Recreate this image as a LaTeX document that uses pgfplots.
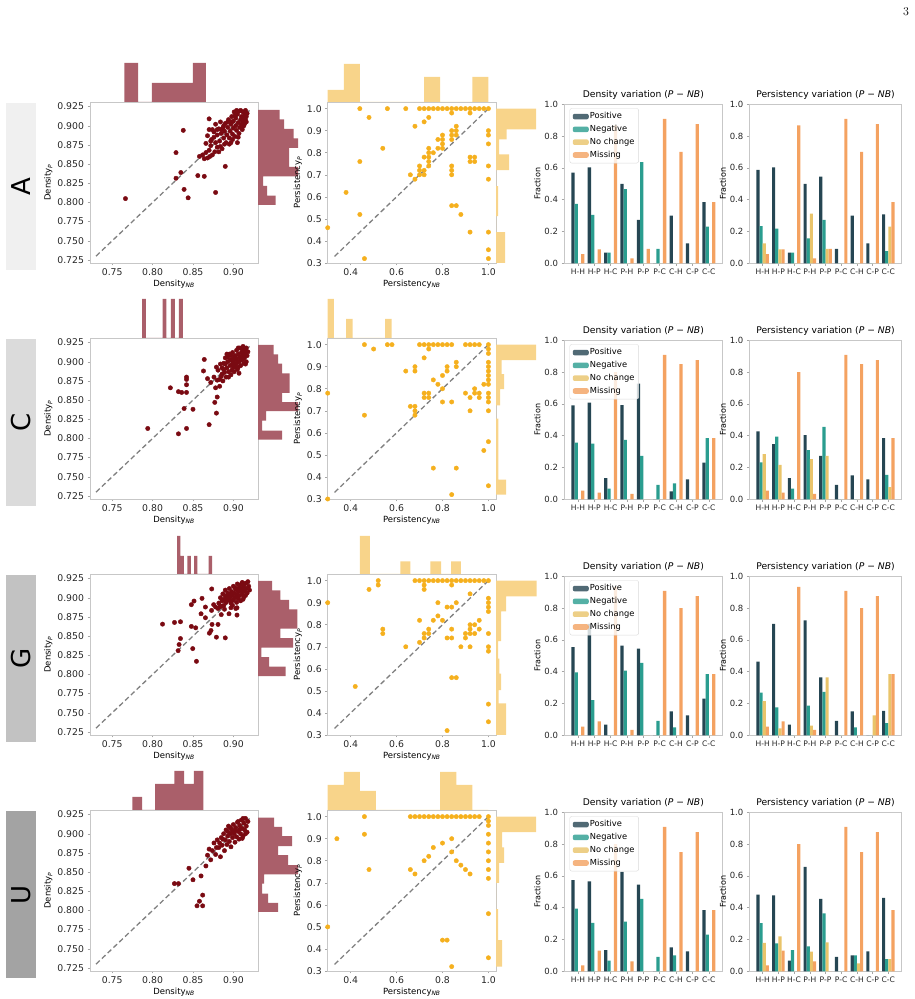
\documentclass[border=0pt]{standalone}
\usepackage{pgfplots}
\pgfplotsset{compat=1.18}
\usepackage{pgfplotstable}
\usepackage{fontspec}
\newfontfamily\dv{DejaVu Sans}
\newcommand{\fs}[1]{\fontsize{#1}{#1}\selectfont}
\definecolor{posc}{HTML}{264653}
\definecolor{negc}{HTML}{2A9D8F}
\definecolor{ncc}{HTML}{E9C46A}
\definecolor{misc}{HTML}{F4A261}
\definecolor{dens}{HTML}{7A0A12}
\definecolor{densh}{HTML}{AA5F6A}
\definecolor{pers}{HTML}{F5B01E}
\definecolor{persh}{HTML}{F8D48A}

\pgfplotsset{
 base/.style={anchor=south west, scale only axis, font=\dv\fs{8},
   axis line style={black!22, line width=0.6pt}, tick style={black!35, line width=0.5pt},
   major tick length=2.5pt, tick align=outside, xtick pos=bottom, ytick pos=left,
   scaled ticks=false, /pgf/number format/assume math mode=true,
   tick label style={text=black!85}},
 sdens/.style={base, width=168pt, height=161pt, xmin=0.7225, xmax=0.9305, ymin=0.721, ymax=0.931,
   xtick={0.75,0.8,0.85,0.9}, ytick={0.725,0.75,0.775,0.8,0.825,0.85,0.875,0.9,0.925},
   xticklabel style={font=\dv\fs{9.3},/pgf/number format/fixed,/pgf/number format/fixed zerofill,/pgf/number format/precision=2},
   yticklabel style={font=\dv\fs{9.3},/pgf/number format/fixed,/pgf/number format/fixed zerofill,/pgf/number format/precision=3},
   label style={font=\dv\fs{8.5}},
   xlabel={Density\textsubscript{\textit{NB}}}, ylabel={Density\textsubscript{\textit{P}}},
   xlabel style={yshift=3pt}, ylabel style={yshift=-2pt}},
 spers/.style={base, width=168.3pt, height=161pt, xmin=0.3, xmax=1.033, ymin=0.3, ymax=1.03,
   xtick={0.4,0.6,0.8,1.0}, ytick={0.3,0.4,0.5,0.6,0.7,0.8,0.9,1.0},
   xticklabel style={font=\dv\fs{9.3},/pgf/number format/fixed,/pgf/number format/fixed zerofill,/pgf/number format/precision=1},
   yticklabel style={font=\dv\fs{9.3},/pgf/number format/fixed,/pgf/number format/fixed zerofill,/pgf/number format/precision=1},
   label style={font=\dv\fs{8.5}},
   xlabel={Persistency\textsubscript{\textit{NB}}}, ylabel={Persistency\textsubscript{\textit{P}}},
   xlabel style={yshift=3pt}, ylabel style={yshift=-2pt}},
 htop/.style={anchor=south west, scale only axis, hide axis, height=40pt, ymin=0, ymax=40},
 hright/.style={anchor=south west, scale only axis, hide axis, width=45pt, xmin=0, xmax=45, height=161pt},
 bstyle/.style={base, height=159pt, ybar=0pt, bar width=0.2, ymin=0, ymax=1, xmin=-0.85, xmax=8.85,
   xtick={0,...,8}, xticklabels={H-H,H-P,H-C,P-H,P-P,P-C,C-H,C-P,C-C},
   ytick={0,0.2,0.4,0.6,0.8,1.0},
   yticklabel style={font=\dv\fs{8.5},/pgf/number format/fixed,/pgf/number format/fixed zerofill,/pgf/number format/precision=1},
   xticklabel style={font=\dv\fs{7.6}, inner xsep=0pt},
   ylabel={Fraction}, ylabel style={font=\dv\fs{8}, yshift=-3pt},
   title style={font=\dv\fs{9.2}, yshift=-5pt},
   legend style={at={(0.035,0.975)}, anchor=north west, font=\dv\fs{8.3}, draw=black!15,
     fill=white, fill opacity=0.8, text opacity=1, rounded corners=2pt, row sep=2.6pt,
     inner xsep=3pt, inner ysep=3pt, nodes={inner sep=1.2pt}},
   legend cell align=left,
   legend image code/.code={\draw[#1,draw=none] (0pt,-2.8pt) rectangle (16pt,2.8pt);}},
 dline/.style={black!50, line width=1.3pt, dash pattern=on 5pt off 3pt},
 dpts/.style={only marks, mark=*, mark size=2.2pt, color=dens},
 ppts/.style={only marks, mark=*, mark size=2.2pt, color=pers},
}

\newcommand{\bars}[1]{%
\addplot[fill=posc,draw=none] table[x=x,y=pos]{#1};
\addplot[fill=negc,draw=none] table[x=x,y=neg]{#1};
\addplot[fill=ncc,draw=none] table[x=x,y=nc]{#1};
\addplot[fill=misc,draw=none] table[x=x,y=mis]{#1};}

\pgfplotstableread{
x pos neg nc mis
0 0.570 0.373 0 0.057
1 0.604 0.304 0 0.088
2 0.067 0.067 0 0.867
3 0.499 0.467 0 0.031
4 0.273 0.636 0 0.091
5 0 0.091 0 0.909
6 0.300 0 0 0.700
7 0.125 0 0 0.875
8 0.385 0.231 0 0.385
}\dA
\pgfplotstableread{
x pos neg nc mis
0 0.587 0.233 0.126 0.057
1 0.604 0.218 0.088 0.088
2 0.067 0.067 0 0.867
3 0.499 0.157 0.312 0.031
4 0.545 0.273 0.091 0.091
5 0.091 0 0 0.909
6 0.300 0 0 0.700
7 0.125 0 0 0.875
8 0.308 0.077 0.231 0.385
}\pA
\pgfplotstableread{
x pos neg nc mis
0 0.590 0.356 0 0.055
1 0.608 0.350 0 0.042
2 0.133 0.067 0 0.800
3 0.592 0.373 0 0.034
4 0.727 0.273 0 0
5 0 0.091 0 0.909
6 0.050 0.100 0 0.850
7 0.125 0 0 0.875
8 0.231 0.385 0 0.385
}\dC
\pgfplotstableread{
x pos neg nc mis
0 0.427 0.232 0.284 0.055
1 0.347 0.394 0.217 0.042
2 0.133 0.067 0 0.800
3 0.404 0.309 0.253 0.034
4 0.273 0.455 0.273 0
5 0.091 0 0 0.909
6 0.150 0 0 0.850
7 0.125 0 0 0.875
8 0.385 0.154 0.077 0.385
}\pC
\pgfplotstableread{
x pos neg nc mis
0 0.554 0.396 0 0.055
1 0.700 0.221 0 0.088
2 0.067 0 0 0.933
3 0.564 0.406 0 0.034
4 0.545 0.455 0 0
5 0 0.091 0 0.909
6 0.150 0.050 0 0.800
7 0.125 0 0 0.875
8 0.231 0.385 0 0.385
}\dG
\pgfplotstableread{
x pos neg nc mis
0 0.463 0.269 0.215 0.055
1 0.700 0.175 0.044 0.088
2 0.067 0 0 0.933
3 0.722 0.187 0.061 0.034
4 0.364 0.273 0.364 0
5 0.091 0 0 0.909
6 0.150 0.050 0 0.800
7 0 0 0.125 0.875
8 0.154 0.077 0.385 0.385
}\pG
\pgfplotstableread{
x pos neg nc mis
0 0.573 0.394 0 0.038
1 0.566 0.305 0 0.130
2 0.133 0.067 0 0.800
3 0.625 0.312 0 0.063
4 0.545 0.455 0 0
5 0 0.091 0 0.909
6 0.150 0.100 0 0.750
7 0.125 0 0 0.875
8 0.385 0.231 0 0.385
}\dU
\pgfplotstableread{
x pos neg nc mis
0 0.482 0.303 0.179 0.038
1 0.478 0.175 0.219 0.130
2 0.067 0.133 0 0.800
3 0.657 0.156 0.124 0.063
4 0.455 0.364 0.182 0
5 0.091 0 0 0.909
6 0.100 0.100 0.050 0.750
7 0.125 0 0 0.875
8 0.462 0.077 0.077 0.385
}\pU

\begin{document}
\begin{tikzpicture}
\useasboundingbox (0pt,0pt) rectangle (915pt,999pt);
\node[font=\fs{12}] at (906pt,987pt) {3};
% row label boxes
\fill[black!6]  (6pt,729pt) rectangle (36pt,896pt);
\node[rotate=90,font=\dv\fs{26}] at (21pt,812.5pt) {A};
\fill[black!14] (6pt,493pt) rectangle (36pt,660pt);
\node[rotate=90,font=\dv\fs{26}] at (21pt,576.5pt) {C};
\fill[black!24] (6pt,257pt) rectangle (36pt,424pt);
\node[rotate=90,font=\dv\fs{26}] at (21pt,340.5pt) {G};
\fill[black!36] (6pt,21pt) rectangle (36pt,188pt);
\node[rotate=90,font=\dv\fs{26}] at (21pt,104.5pt) {U};

%================ ROW A ================
\begin{axis}[sdens, at={(90pt,736pt)}]
\addplot[dpts] coordinates {(0.7664,0.805)(0.829,0.865)(0.838,0.894)(0.829,0.8315)(0.835,0.839)(0.839,0.817)(0.844,0.806)(0.856,0.835)(0.864,0.834)(0.878,0.813)(0.890,0.847)(0.870,0.909)(0.858,0.860)(0.864,0.857)
(0.862,0.862)(0.866,0.865)(0.868,0.858)(0.870,0.868)(0.872,0.874)(0.874,0.862)(0.866,0.877)(0.868,0.887)(0.870,0.895)(0.873,0.882)(0.876,0.892)(0.878,0.878)(0.878,0.902)(0.880,0.888)(0.880,0.872)(0.882,0.896)(0.883,0.880)(0.884,0.905)(0.885,0.890)(0.886,0.870)(0.887,0.897)(0.888,0.884)(0.889,0.893)(0.890,0.903)(0.891,0.878)(0.892,0.888)(0.893,0.898)(0.894,0.908)(0.895,0.884)(0.896,0.893)(0.897,0.902)(0.897,0.878)(0.898,0.912)(0.899,0.889)(0.900,0.897)(0.900,0.906)(0.901,0.918)(0.902,0.886)(0.903,0.900)(0.903,0.910)(0.904,0.894)(0.905,0.915)(0.905,0.878)(0.906,0.904)(0.907,0.890)(0.907,0.919)(0.908,0.898)(0.909,0.908)(0.910,0.912)(0.910,0.902)(0.911,0.895)(0.912,0.918)(0.912,0.906)(0.913,0.910)(0.914,0.915)(0.914,0.903)(0.915,0.920)(0.915,0.908)(0.916,0.912)(0.909,0.920)(0.904,0.920)(0.902,0.913)(0.898,0.905)(0.893,0.905)(0.888,0.900)(0.885,0.895)(0.880,0.895)(0.876,0.885)(0.874,0.895)(0.872,0.880)(0.906,0.885)(0.911,0.898)(0.913,0.900)(0.916,0.905)(0.917,0.916)(0.899,0.882)(0.895,0.876)(0.889,0.876)(0.884,0.873)(0.882,0.866)(0.877,0.866)(0.871,0.860)};
\addplot[dline] coordinates {(0.73,0.73)(0.92,0.92)};
\end{axis}
\begin{axis}[htop, at={(90pt,897pt)}, width=168pt, xmin=0.7225, xmax=0.9305]
\addplot[ybar interval, fill=densh, draw=none] coordinates {(0.765,39)(0.782,0)(0.799,19)(0.816,19)(0.833,19)(0.850,39)(0.866,0)};
\end{axis}
\begin{axis}[hright, at={(258pt,736pt)}, ymin=0.721, ymax=0.931]
\addplot[xbar interval, fill=densh, draw=none] coordinates {(17.6,0.7968)(9,0.809)(5,0.8215)(40,0.834)(31,0.8463)(31,0.8587)(40,0.871)(35.6,0.8835)(26,0.896)(21.6,0.9083)(0,0.9207)};
\end{axis}

\begin{axis}[spers, at={(327.7pt,736pt)}]
\addplot[ppts] coordinates {(0.3,0.46)(0.44,1.0)(0.48,0.96)(0.56,1.0)(0.64,1.0)
(0.70,1.0)(0.72,1.0)(0.74,1.0)(0.76,1.0)(0.78,1.0)(0.80,1.0)(0.82,1.0)(0.84,1.0)(0.86,1.0)(0.88,1.0)(0.90,1.0)(0.92,1.0)(0.94,1.0)(0.96,1.0)(0.98,1.0)(1.0,1.0)
(0.84,0.98)(0.92,0.98)(0.74,0.96)(0.72,0.94)(0.68,0.92)(1.0,0.90)(1.0,0.88)(1.0,0.84)
(0.86,0.92)(0.84,0.90)(0.86,0.90)(0.84,0.88)(0.86,0.88)(0.84,0.86)
(0.80,0.88)(0.80,0.86)(0.78,0.86)(0.80,0.84)(0.78,0.82)(0.80,0.82)(0.74,0.82)(0.74,0.80)(0.76,0.80)(0.72,0.78)(0.74,0.78)(0.74,0.76)(0.70,0.74)(0.74,0.74)(0.70,0.72)(0.72,0.72)(0.70,0.70)(0.72,0.70)(0.66,0.70)(0.68,0.68)
(0.54,0.82)(0.44,0.76)(0.38,0.62)(0.44,0.52)(0.46,0.32)
(0.92,0.78)(0.94,0.78)(0.92,0.76)(0.94,0.76)(0.84,0.74)(0.84,0.72)(0.84,0.70)(1.0,0.74)(1.0,0.68)
(0.84,0.56)(0.86,0.56)(0.88,0.52)(0.92,0.44)(1.0,0.44)(1.0,0.36)(1.0,0.32)};
\addplot[dline] coordinates {(0.33,0.33)(1.0,1.0)};
\end{axis}
\begin{axis}[htop, at={(327.7pt,897pt)}, width=168.3pt, xmin=0.3, xmax=1.033]
\addplot[ybar interval, fill=persh, draw=none] coordinates {(0.30,12)(0.37,38)(0.44,0)(0.51,0)(0.58,0)(0.65,0)(0.72,25)(0.79,0)(0.86,0)(0.93,25)(1.0,0)};
\end{axis}
\begin{axis}[hright, at={(496pt,736pt)}, ymin=0.3, ymax=1.03]
\addplot[xbar interval, fill=persh, draw=none] coordinates {(9,0.30)(0,0.44)(2,0.512)(0,0.648)(13,0.721)(3,0.792)(10.7,0.861)(40,0.906)(0,1.0)};
\end{axis}

\begin{axis}[bstyle, at={(564pt,735.7pt)}, width=158.7pt, title={Density variation (\textit{P} − \textit{NB})},
  legend entries={Positive,Negative,No change,Missing}]
\bars{\dA}
\end{axis}
\begin{axis}[bstyle, at={(749.3pt,735.7pt)}, width=152.4pt, title={Persistency variation (\textit{P} − \textit{NB})}]
\bars{\pA}
\end{axis}

%================ ROW C ================
\begin{axis}[sdens, at={(90pt,500pt)}]
\addplot[dpts] coordinates {(0.794,0.813)(0.822,0.866)(0.832,0.861)(0.832,0.806)(0.842,0.813)(0.839,0.839)(0.836,0.860)(0.842,0.880)(0.842,0.877)(0.842,0.870)(0.842,0.860)(0.850,0.838)(0.863,0.888)(0.864,0.903)(0.870,0.818)(0.879,0.833)(0.880,0.854)(0.877,0.847)(0.868,0.878)(0.872,0.873)(0.876,0.880)(0.878,0.866)(0.880,0.876)(0.883,0.868)(0.885,0.881)(0.886,0.892)(0.887,0.875)(0.888,0.898)(0.889,0.886)(0.890,0.905)(0.891,0.880)(0.892,0.892)(0.893,0.900)(0.894,0.887)(0.895,0.910)(0.896,0.895)(0.897,0.883)(0.898,0.903)(0.899,0.912)(0.900,0.893)(0.900,0.900)(0.901,0.887)(0.902,0.908)(0.903,0.897)(0.904,0.915)(0.904,0.903)(0.905,0.890)(0.906,0.910)(0.907,0.900)(0.908,0.918)(0.908,0.906)(0.909,0.895)(0.910,0.912)(0.911,0.903)(0.912,0.920)(0.912,0.909)(0.913,0.898)(0.914,0.915)(0.914,0.906)(0.915,0.911)(0.916,0.918)(0.917,0.908)(0.916,0.900)(0.918,0.913)(0.911,0.916)(0.906,0.918)(0.901,0.905)(0.897,0.908)(0.893,0.906)(0.890,0.897)(0.888,0.890)(0.884,0.897)(0.881,0.889)(0.879,0.893)(0.894,0.880)(0.898,0.889)(0.902,0.893)(0.905,0.899)(0.909,0.902)(0.913,0.904)(0.915,0.897)(0.907,0.885)(0.896,0.902)(0.892,0.910)(0.899,0.897)(0.903,0.905)(0.910,0.907)(0.906,0.893)(0.886,0.884)(0.883,0.877)};
\addplot[dline] coordinates {(0.73,0.73)(0.92,0.92)};
\end{axis}
\begin{axis}[htop, at={(90pt,661pt)}, width=168pt, xmin=0.7225, xmax=0.9305]
\addplot[ybar interval, fill=densh, draw=none] coordinates {(0.7869,39)(0.7918,0)(0.8123,39)(0.8172,0)(0.8227,39)(0.8276,0)(0.8326,39)(0.8375,0)};
\end{axis}
\begin{axis}[hright, at={(258pt,500pt)}, ymin=0.721, ymax=0.931]
\addplot[xbar interval, fill=densh, draw=none] coordinates {(24,0.7984)(4,0.8101)(8,0.8233)(40,0.8355)(24,0.8473)(31.6,0.8595)(31.6,0.8726)(24,0.8848)(20,0.8975)(15.6,0.9097)(0,0.922)};
\end{axis}

\begin{axis}[spers, at={(327.7pt,500pt)}]
\addplot[ppts] coordinates {(0.30,0.78)(0.30,0.30)(0.46,1.0)(0.50,0.98)(0.56,1.0)(0.58,1.0)
(0.70,1.0)(0.72,1.0)(0.74,1.0)(0.76,1.0)(0.78,1.0)(0.80,1.0)(0.82,1.0)(0.84,1.0)(0.90,1.0)(0.92,1.0)(0.94,1.0)(0.96,1.0)(1.0,1.0)
(0.74,0.98)(0.72,0.94)(0.64,0.88)(0.68,0.90)(0.68,0.88)
(0.86,0.92)(0.86,0.90)(0.82,0.90)(0.82,0.88)(0.80,0.86)(0.76,0.84)(0.78,0.82)(0.80,0.80)
(0.72,0.78)(0.74,0.78)(0.72,0.76)(0.74,0.76)(0.80,0.74)(0.84,0.74)
(0.66,0.72)(0.68,0.72)(0.68,0.70)(0.68,0.68)(0.46,0.68)
(1.0,0.98)(1.0,0.96)(1.0,0.92)(1.0,0.90)(1.0,0.88)(1.0,0.86)(1.0,0.84)(1.0,0.82)(1.0,0.78)(1.0,0.76)(1.0,0.74)(1.0,0.70)(1.0,0.56)(1.0,0.36)
(0.98,0.82)(0.90,0.78)(0.92,0.76)(0.94,0.80)(0.94,0.78)(0.96,0.78)(0.96,0.76)(0.92,0.70)
(0.98,0.52)(0.76,0.44)(0.86,0.44)(0.84,0.32)};
\addplot[dline] coordinates {(0.33,0.33)(1.0,1.0)};
\end{axis}
\begin{axis}[htop, at={(327.7pt,661pt)}, width=168.3pt, xmin=0.3, xmax=1.033]
\addplot[ybar interval, fill=persh, draw=none] coordinates {(0.3,39)(0.3274,0)(0.3797,19)(0.4089,0)(0.5496,19)(0.5787,0)};
\end{axis}
\begin{axis}[hright, at={(496pt,500pt)}, ymin=0.3, ymax=1.03]
\addplot[xbar interval, fill=persh, draw=none] coordinates {(10,0.32)(2.3,0.388)(0,0.664)(4,0.725)(8,0.798)(5.7,0.866)(40,0.93)(0,1.0)};
\end{axis}

\begin{axis}[bstyle, at={(564pt,499.7pt)}, width=158.7pt, title={Density variation (\textit{P} − \textit{NB})},
  legend entries={Positive,Negative,No change,Missing}]
\bars{\dC}
\end{axis}
\begin{axis}[bstyle, at={(749.3pt,499.7pt)}, width=152.4pt, title={Persistency variation (\textit{P} − \textit{NB})}]
\bars{\pC}
\end{axis}

%================ ROW G ================
\begin{axis}[sdens, at={(90pt,264pt)}]
\addplot[dpts] coordinates {(0.8123,0.8656)(0.8271,0.8678)(0.8345,0.8687)(0.8345,0.8468)(0.8328,0.839)(0.8316,0.831)(0.848,0.891)(0.8513,0.8957)(0.848,0.8626)(0.8534,0.8608)(0.8497,0.8337)(0.8543,0.8171)(0.8612,0.8992)(0.860,0.8791)(0.8654,0.8879)(0.8654,0.8739)(0.8703,0.8538)(0.8723,0.8573)(0.8736,0.8652)(0.8732,0.9115)(0.881,0.8652)(0.879,0.8486)(0.890,0.8477)(0.873,0.8835)(0.8756,0.891)(0.878,0.8879)(0.881,0.886)(0.885,0.878)(0.883,0.8879)(0.8946,0.8791)(0.9045,0.887)(0.9045,0.8774)
(0.882,0.893)(0.884,0.900)(0.886,0.896)(0.887,0.905)(0.888,0.890)(0.889,0.898)(0.890,0.910)(0.891,0.894)(0.892,0.902)(0.893,0.906)(0.894,0.897)(0.895,0.912)(0.896,0.901)(0.897,0.893)(0.898,0.908)(0.899,0.903)(0.900,0.915)(0.900,0.897)(0.901,0.906)(0.902,0.900)(0.903,0.911)(0.904,0.894)(0.904,0.904)(0.905,0.918)(0.906,0.908)(0.906,0.899)(0.907,0.913)(0.908,0.903)(0.909,0.917)(0.909,0.896)(0.910,0.909)(0.911,0.905)(0.911,0.920)(0.912,0.913)(0.913,0.901)(0.913,0.916)(0.914,0.909)(0.915,0.919)(0.916,0.912)(0.917,0.906)(0.918,0.921)(0.919,0.915)(0.920,0.910)(0.896,0.905)(0.902,0.913)(0.893,0.899)(0.898,0.896)(0.905,0.902)(0.908,0.911)(0.890,0.902)(0.887,0.897)(0.885,0.889)(0.889,0.885)(0.897,0.887)(0.903,0.886)(0.899,0.890)(0.912,0.898)(0.915,0.903)};
\addplot[dline] coordinates {(0.73,0.73)(0.92,0.92)};
\end{axis}
\begin{axis}[htop, at={(90pt,425pt)}, width=168pt, xmin=0.7225, xmax=0.9305]
\addplot[ybar interval, fill=densh, draw=none] coordinates {(0.8303,38)(0.8345,18)(0.8386,0)(0.8432,18)(0.8473,0)(0.8513,18)(0.8555,0)(0.8695,18)(0.8736,0)};
\end{axis}
\begin{axis}[hright, at={(258pt,264pt)}, ymin=0.721, ymax=0.931]
\addplot[xbar interval, fill=densh, draw=none] coordinates {(27.7,0.7979)(11,0.8103)(3.3,0.8227)(35,0.8351)(22.3,0.8475)(39.3,0.8599)(39.3,0.8723)(31,0.8847)(22.3,0.8971)(14,0.9095)(0,0.9219)};
\end{axis}

\begin{axis}[spers, at={(327.7pt,264pt)}]
\addplot[ppts] coordinates {(0.30,0.90)(0.48,0.96)(0.52,1.0)(0.52,0.98)(0.54,0.78)(0.54,0.76)(0.64,0.70)
(0.68,1.0)(0.70,1.0)(0.72,1.0)(0.74,1.0)(0.76,1.0)(0.78,1.0)(0.80,1.0)(0.82,1.0)(0.84,1.0)(0.86,1.0)(0.88,1.0)(0.90,1.0)(0.92,1.0)(0.94,1.0)(0.96,1.0)(0.98,1.0)(1.0,1.0)
(0.72,0.98)(0.72,0.96)(0.84,0.98)(0.92,0.94)(0.78,0.90)(0.82,0.88)(0.84,0.88)(0.86,0.90)
(0.70,0.82)(0.76,0.82)(0.78,0.84)(0.80,0.82)(0.84,0.78)(0.72,0.76)(0.74,0.78)(0.74,0.76)(0.72,0.74)(0.70,0.72)(0.82,0.74)(0.84,0.74)
(0.88,0.70)(0.92,0.70)(0.90,0.76)(0.90,0.74)(0.92,0.80)(0.92,0.78)(0.92,0.76)(0.94,0.80)(0.94,0.76)(0.96,0.82)(0.96,0.78)
(1.0,0.92)(1.0,0.90)(1.0,0.88)(1.0,0.86)(1.0,0.76)(1.0,0.70)(1.0,0.68)(1.0,0.44)(1.0,0.36)
(0.84,0.56)(0.86,0.56)(0.42,0.52)(0.82,0.32)};
\addplot[dline] coordinates {(0.33,0.33)(1.0,1.0)};
\end{axis}
\begin{axis}[htop, at={(327.7pt,425pt)}, width=168.3pt, xmin=0.3, xmax=1.033]
\addplot[ybar interval, fill=persh, draw=none] coordinates {(0.4405,38)(0.4839,0)(0.617,12.7)(0.660,0)(0.747,12.7)(0.794,0)(0.838,12.7)(0.880,0)};
\end{axis}
\begin{axis}[hright, at={(496pt,264pt)}, ymin=0.3, ymax=1.03]
\addplot[xbar interval, fill=persh, draw=none] coordinates {(10,0.30)(2.7,0.443)(5,0.503)(3.3,0.578)(2,0.646)(5,0.726)(10,0.861)(40.7,0.929)(0,1.0)};
\end{axis}

\begin{axis}[bstyle, at={(564pt,263.7pt)}, width=158.7pt, title={Density variation (\textit{P} − \textit{NB})},
  legend entries={Positive,Negative,No change,Missing}]
\bars{\dG}
\end{axis}
\begin{axis}[bstyle, at={(749.3pt,263.7pt)}, width=152.4pt, title={Persistency variation (\textit{P} − \textit{NB})}]
\bars{\pG}
\end{axis}

%================ ROW U ================
\begin{axis}[sdens, at={(90pt,28pt)}]
\addplot[dpts] coordinates {(0.827,0.835)(0.832,0.835)(0.845,0.855)(0.850,0.840)(0.855,0.806)(0.858,0.812)(0.862,0.806)(0.862,0.820)(0.860,0.845)(0.866,0.858)(0.868,0.872)(0.870,0.880)(0.872,0.866)(0.874,0.878)(0.876,0.888)(0.878,0.873)(0.880,0.892)(0.882,0.882)(0.884,0.870)(0.885,0.895)(0.886,0.885)(0.888,0.900)(0.889,0.878)(0.890,0.892)(0.891,0.905)(0.892,0.886)(0.893,0.897)(0.894,0.910)(0.895,0.890)(0.896,0.900)(0.897,0.883)(0.898,0.906)(0.899,0.895)(0.900,0.912)(0.901,0.900)(0.902,0.889)(0.903,0.908)(0.904,0.896)(0.905,0.915)(0.906,0.903)(0.907,0.893)(0.908,0.911)(0.909,0.900)(0.910,0.918)(0.911,0.907)(0.912,0.897)(0.913,0.914)(0.914,0.905)(0.915,0.920)(0.916,0.910)(0.917,0.902)(0.918,0.916)(0.912,0.920)(0.906,0.916)(0.899,0.903)(0.893,0.903)(0.887,0.893)(0.883,0.888)(0.879,0.882)(0.896,0.908)(0.902,0.904)(0.908,0.906)(0.911,0.894)(0.915,0.900)};
\addplot[dline] coordinates {(0.73,0.73)(0.92,0.92)};
\end{axis}
\begin{axis}[htop, at={(90pt,189pt)}, width=168pt, xmin=0.7225, xmax=0.9305]
\addplot[ybar interval, fill=densh, draw=none] coordinates {(0.775,13)(0.787,0)(0.803,26)(0.815,26)(0.827,39)(0.839,26)(0.851,39)(0.863,0)};
\end{axis}
\begin{axis}[hright, at={(258pt,28pt)}, ymin=0.721, ymax=0.931]
\addplot[xbar interval, fill=densh, draw=none] coordinates {(20,0.798)(10,0.810)(4,0.822)(6,0.835)(40,0.847)(30,0.859)(20,0.872)(34,0.884)(24,0.897)(16,0.909)(0,0.921)};
\end{axis}

\begin{axis}[spers, at={(327.7pt,28pt)}]
\addplot[ppts] coordinates {(0.34,0.90)(0.46,1.0)(0.46,0.92)(0.48,0.76)(0.30,0.50)(0.66,1.0)(0.68,1.0)(0.70,1.0)(0.72,1.0)(0.74,1.0)(0.76,1.0)(0.78,1.0)(0.80,1.0)(0.82,1.0)(0.84,1.0)(0.86,1.0)(0.88,1.0)(0.90,1.0)(0.92,1.0)(0.94,1.0)(0.96,1.0)(1.0,1.0)
(0.66,0.76)(0.68,0.74)(0.72,0.80)(0.74,0.82)(0.76,0.86)(0.80,0.88)(0.84,0.90)(0.84,0.84)(0.86,0.80)(0.88,0.78)(0.90,0.76)(0.92,0.74)(0.80,0.44)(0.82,0.44)(0.84,0.32)
(1.0,0.98)(1.0,0.96)(1.0,0.92)(1.0,0.88)(1.0,0.84)(1.0,0.80)(1.0,0.76)(1.0,0.72)(1.0,0.56)(1.0,0.36)};
\addplot[dline] coordinates {(0.33,0.33)(1.0,1.0)};
\end{axis}
\begin{axis}[htop, at={(327.7pt,189pt)}, width=168.3pt, xmin=0.3, xmax=1.033]
\addplot[ybar interval, fill=persh, draw=none] coordinates {(0.30,25)(0.37,38)(0.44,19)(0.51,0)(0.58,0)(0.65,0)(0.72,0)(0.79,38)(0.86,25)(0.93,0)(1.0,0)};
\end{axis}
\begin{axis}[hright, at={(496pt,28pt)}, ymin=0.3, ymax=1.03]
\addplot[xbar interval, fill=persh, draw=none] coordinates {(6,0.32)(2,0.44)(0,0.58)(3,0.70)(8,0.79)(6,0.86)(40,0.93)(0,1.0)};
\end{axis}

\begin{axis}[bstyle, at={(564pt,27.7pt)}, width=158.7pt, title={Density variation (\textit{P} − \textit{NB})},
  legend entries={Positive,Negative,No change,Missing}]
\bars{\dU}
\end{axis}
\begin{axis}[bstyle, at={(749.3pt,27.7pt)}, width=152.4pt, title={Persistency variation (\textit{P} − \textit{NB})}]
\bars{\pU}
\end{axis}
\end{tikzpicture}
\end{document}
